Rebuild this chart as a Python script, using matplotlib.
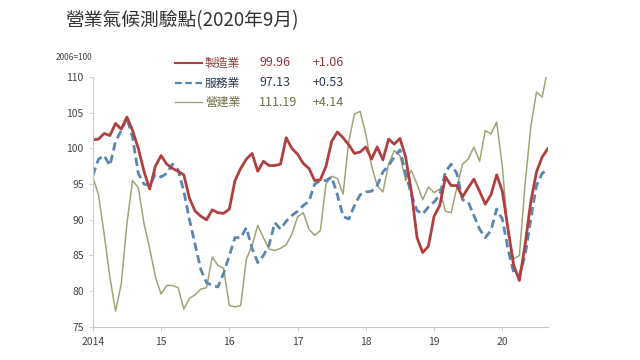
import numpy as np
import matplotlib.pyplot as plt
from matplotlib.lines import Line2D

plt.rcParams['font.family'] = ['Noto Sans CJK TC', 'DejaVu Sans']

# monthly index, Jan 2014 .. Sep 2020 (2006=100)
manuf = [101.2, 101.3, 102.1, 101.8, 103.5, 102.7, 104.4, 102.5, 100.0, 96.8,
         94.3, 97.5, 99.0, 97.8, 97.2, 96.8, 96.3, 93.0, 91.2, 90.5,
         90.0, 91.4, 91.0, 90.9, 91.5, 95.5, 97.2, 98.5, 99.3, 96.8,
         98.2, 97.6, 97.6, 97.8, 101.5, 100.0, 99.2, 97.9, 97.2, 95.5,
         95.6, 97.5, 101.0, 102.3, 101.5, 100.5, 99.3, 99.5, 100.2, 98.5,
         100.2, 98.4, 101.3, 100.6, 101.4, 98.8, 94.0, 87.5, 85.4, 86.3,
         90.5, 92.0, 96.0, 94.8, 94.8, 93.2, 94.5, 95.7, 94.0, 92.2,
         93.5, 96.3, 94.0, 88.7, 83.6, 81.5, 86.5, 92.5, 96.7, 98.8, 99.96]
service = [96.2, 98.5, 99.0, 97.6, 101.0, 102.5, 104.3, 101.5, 96.5, 95.0,
           94.8, 96.4, 96.0, 96.5, 97.8, 97.0, 94.0, 90.0, 86.5, 83.0,
           81.2, 80.8, 80.6, 82.5, 85.0, 87.5, 87.5, 88.9, 86.0, 84.0,
           85.0, 86.5, 89.6, 88.7, 89.8, 90.6, 91.2, 92.0, 92.6, 95.0,
           95.5, 95.5, 96.0, 93.5, 90.5, 90.1, 92.0, 93.5, 93.9, 94.0,
           94.8, 96.7, 97.6, 98.8, 99.8, 96.5, 93.6, 91.3, 90.8, 91.8,
           92.5, 93.5, 96.7, 97.8, 96.5, 92.8, 92.5, 90.6, 88.7, 87.5,
           88.5, 91.5, 90.1, 85.9, 82.6, 82.2, 85.0, 90.1, 94.8, 96.5, 97.13]
constr = [96.0, 93.5, 88.0, 82.0, 77.2, 81.0, 89.5, 95.5, 94.5, 89.5,
          86.0, 82.0, 79.6, 80.8, 80.8, 80.5, 77.5, 79.0, 79.5, 80.3,
          80.5, 84.8, 83.6, 83.2, 78.0, 77.8, 78.0, 84.5, 86.4, 89.2,
          87.5, 85.9, 85.7, 86.0, 86.5, 88.0, 90.4, 91.0, 88.7, 87.8,
          88.5, 95.0, 96.1, 95.8, 93.6, 101.0, 104.8, 105.2, 102.0, 97.6,
          94.8, 93.9, 97.8, 99.7, 99.0, 95.5, 96.9, 95.0, 92.8, 94.6,
          93.8, 94.3, 91.2, 91.0, 94.5, 97.8, 98.5, 100.2, 98.2, 102.5,
          102.0, 103.7, 97.5, 88.0, 84.5, 85.0, 95.0, 103.0, 107.9, 107.2, 111.19]

names = ['製造業', '服務業', '營建業']
latest = ['99.96', '97.13', '111.19']
change = ['+1.06', '+0.53', '+4.14']
year_labels = ['2014', '15', '16', '17', '18', '19', '20']
yticks = [75, 80, 85, 90, 95, 100, 105, 110]

line_colors = ['#b0403f', '#5b86b0', '#a3a377']
text_colors = ['#8c3a3a', '#2d3a4f', '#6e6e48']
styles = [dict(lw=2.0, ls='-'), dict(lw=2.0, ls=(0, (3, 1.6))), dict(lw=1.1, ls='-')]
legend_lw = [1.5, 1.6, 1.0]

fig = plt.figure(figsize=(6.4, 3.6), dpi=100)
ax = fig.add_axes([0.145, 0.092, 0.711, 0.694])

x = np.arange(len(manuf))
for data, c, st in zip([constr, service, manuf], line_colors[::-1], styles[::-1]):
    ax.plot(x, data, color=c, solid_joinstyle='round', dash_capstyle='butt', **st)

ax.set_xlim(0, len(manuf) - 1)
ax.set_ylim(75, 110)
ax.set_yticks(yticks)
ax.set_xticks(np.arange(0, 80, 12))
ax.set_xticklabels(year_labels)
for s in ['top', 'right']:
    ax.spines[s].set_visible(False)
for s in ['left', 'bottom']:
    ax.spines[s].set_color('#c8c8c8')
    ax.spines[s].set_linewidth(0.8)
ax.tick_params(axis='both', colors='#c8c8c8', labelcolor='#444444', labelsize=7.5,
               length=3, width=0.6)
ax.tick_params(axis='x', pad=4)

fig.text(65 / 640, 1 - 21 / 360, '營業氣候測驗點(2020年9月)', fontsize=13.5,
         color='#333333', va='center', ha='left')
fig.text(56 / 640, 1 - 57 / 360, '2006=100', fontsize=6, color='#444444',
         va='center', ha='left')

# legend block
rows_y = [63, 83, 102]
for i in range(3):
    yy = 1 - rows_y[i] / 360
    st = dict(styles[i], lw=legend_lw[i])
    fig.add_artist(Line2D([175 / 640, 202 / 640], [yy, yy], color=line_colors[i],
                          transform=fig.transFigure, **st))
    fig.text(205 / 640, yy, names[i], fontsize=8.5, color=text_colors[i], va='center')
    fig.text(259 / 640, yy, latest[i], fontsize=9, color=text_colors[i], va='center')
    fig.text(344 / 640, yy, change[i], fontsize=9, color=text_colors[i], va='center',
             ha='right')

fig.savefig('out.png', dpi=100)
